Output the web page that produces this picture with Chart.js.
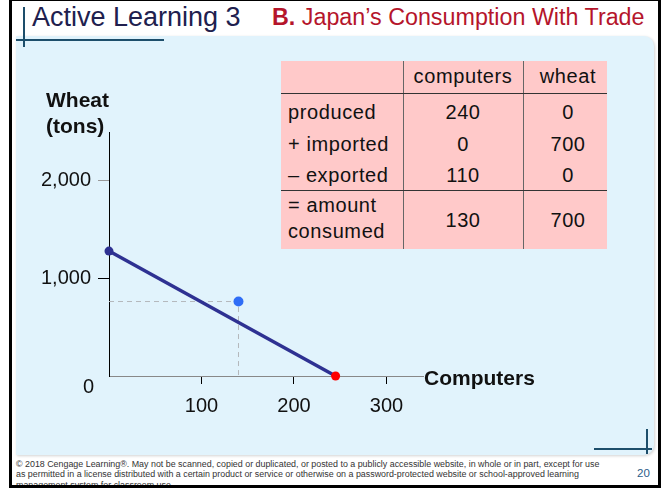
<!DOCTYPE html>
<html>
<head>
<meta charset="utf-8">
<script src="https://cdn.jsdelivr.net/npm/chart.js@4"></script>
<style>
  body { margin: 0; width: 666px; height: 488px; background: #fff; overflow: hidden; position: relative; font-family: Arial, "Liberation Sans", sans-serif; }
  .abs { position: absolute; }
  #frame { left: 9px; top: -2px; width: 652px; height: 490px; border: 3px solid #000; box-sizing: border-box; }
  #panel { left: 16px; top: 36px; width: 638px; height: 419px; background: #e1f3fc; border-radius: 0 10px 10px 0; box-shadow: 1px 1px 3px rgba(0,0,0,0.18); }
  .deco { background: #1d4e6b; }
  #title { left: 32px; top: 4px; font-size: 27px; line-height: 27px; color: #20204e; white-space: nowrap; }
  #subtitle { left: 272px; top: 6.3px; font-size: 23.3px; line-height: 23px; color: #b5152b; white-space: nowrap; }
  #table { left: 281px; top: 61px; width: 326px; height: 188px; background: #ffc9c9; }
  .cell { position: absolute; font-size: 20px; line-height: 24px; color: #111; letter-spacing: 0.6px; white-space: nowrap; }
  .num { transform: translateX(-50%); }
  #footer { left: 16px; top: 458.5px; font-size: 8.9px; line-height: 10.6px; color: #333; white-space: pre; }
  #page { left: 637px; top: 466px; font-size: 11.5px; line-height: 14px; color: #2a5d8a; }
  #chart { position: absolute; left: 0; top: 0; }
</style>
</head>
<body>
<div id="panel" class="abs"></div>
<div class="abs deco" style="left:23px;top:7px;width:2px;height:40px"></div>
<div class="abs deco" style="left:16px;top:39px;width:148px;height:2px"></div>
<div class="abs deco" style="left:646px;top:429px;width:2px;height:25px"></div>
<div class="abs deco" style="left:594px;top:448px;width:58px;height:2px"></div>
<div id="title" class="abs">Active Learning 3</div>
<div id="subtitle" class="abs"><b>B.</b> Japan’s Consumption With Trade</div>
<div id="table" class="abs"></div>
<div id="footer" class="abs"></div>
<div id="page" class="abs">20</div>
<div id="frame" class="abs"></div>
<canvas id="chart" width="666" height="488"></canvas>
<script>
// PPF endpoints and the consumption point
const ppfComputers = [0, 245];
const ppfWheat = [1275, 0];
const consumptionComputers = [140];
const consumptionWheat = [760];

const xTicks = [100, 200, 300];
const xTickLabels = ["100", "200", "300"];
const yTicks = [1000, 2000];
const yTickLabels = ["1,000", "2,000"];

// table
const tableHeaders = ["computers", "wheat"];
const rowLabels = ["produced", "+ imported", "– exported", "= amount\nconsumed"];
const computersCol = ["240", "0", "110", "130"];
const wheatCol = ["0", "700", "0", "700"];

const footerLines = [
  "© 2018 Cengage Learning®. May not be scanned, copied or duplicated, or posted to a publicly accessible website, in whole or in part, except for use",
  "as permitted in a license distributed with a certain product or service or otherwise on a password-protected website or school-approved learning",
  "management system for classroom use."
];

document.getElementById("footer").textContent = footerLines.join("\n");

// build table
const table = document.getElementById("table");
function addLine(l, t, w, h, c) {
  const d = document.createElement("div");
  d.className = "abs";
  d.style.cssText = `left:${l}px;top:${t}px;width:${w}px;height:${h}px;background:${c}`;
  table.appendChild(d);
}
addLine(122, 0, 1, 188, "#666");
addLine(242, 0, 1, 188, "#666");
addLine(0, 32, 326, 1, "#333");
addLine(0, 129, 326, 1, "#333");

function addCell(text, x, top, centered) {
  const d = document.createElement("div");
  d.className = "cell" + (centered ? " num" : "");
  d.style.left = x + "px";
  d.style.top = top + "px";
  d.textContent = text;
  table.appendChild(d);
}
const colX = [182, 287];
tableHeaders.forEach(function (h, i) { addCell(h, colX[i], 3, true); });
const rowTops = [38.7, 70.5, 102.2, 147.2];
rowLabels.forEach(function (lab, i) {
  if (lab.indexOf("\n") >= 0) {
    const parts = lab.split("\n");
    addCell(parts[0], 7, 132.3, false);
    addCell(parts[1], 7, 158.3, false);
  } else {
    addCell(lab, 7, rowTops[i], false);
  }
  addCell(computersCol[i], colX[0], rowTops[i], true);
  addCell(wheatCol[i], colX[1], rowTops[i], true);
});

const FONT = "Arial, 'Liberation Sans', sans-serif";

const axisLabels = {
  id: "axisLabels",
  afterDraw(chart) {
    const ctx = chart.ctx;
    const a = chart.chartArea;
    ctx.save();
    ctx.fillStyle = "#111";
    ctx.textBaseline = "alphabetic";
    ctx.font = "bold 21px " + FONT;
    ctx.textAlign = "left";
    ctx.fillText("Wheat", 46, 107);
    ctx.fillText("(tons)", 46, 133);
    ctx.fillText("Computers", a.right + 1, 385);
    ctx.font = "20px " + FONT;
    ctx.textAlign = "right";
    ctx.fillText("0", 94, 393);
    ctx.restore();
  }
};

const guide = [
  { x: 0, y: consumptionWheat[0] },
  { x: consumptionComputers[0], y: consumptionWheat[0] },
  { x: consumptionComputers[0], y: 0 }
];

new Chart(document.getElementById("chart"), {
  type: "scatter",
  data: {
    datasets: [
      {
        data: ppfComputers.map((x, i) => ({ x: x, y: ppfWheat[i] })),
        showLine: true,
        borderColor: "#2e3192",
        borderWidth: 3.5,
        pointRadius: 4.5,
        pointBackgroundColor: ["#2e3192", "#ff0000"],
        pointBorderColor: ["#2e3192", "#ff0000"],
        pointBorderWidth: 0,
        clip: false
      },
      {
        data: consumptionComputers.map((x, i) => ({ x: x, y: consumptionWheat[i] })),
        pointRadius: 5,
        pointBackgroundColor: "#2f6df6",
        pointBorderWidth: 0,
        clip: false
      },
      {
        data: guide,
        showLine: true,
        borderColor: "#b4b8bc",
        borderWidth: 1,
        borderDash: [5, 4],
        pointRadius: 0,
        clip: false
      }
    ]
  },
  options: {
    responsive: false,
    animation: false,
    layout: { padding: { left: 0, top: 132, right: 243, bottom: 0 } },
    plugins: { legend: { display: false }, tooltip: { enabled: false } },
    scales: {
      x: {
        type: "linear",
        min: 0,
        max: 339.5,
        afterBuildTicks: function (axis) { axis.ticks = xTicks.map(v => ({ value: v })); },
        afterFit: function (scale) { scale.height = 112; },
        grid: { display: true, drawOnChartArea: false, drawTicks: true, tickLength: 8, color: "#000" },
        border: { display: true, color: "#888", width: 1 },
        ticks: {
          autoSkip: false, maxRotation: 0, padding: 10, color: "#111",
          font: { size: 20, family: FONT },
          callback: function (v, i) { return xTickLabels[i]; }
        }
      },
      y: {
        type: "linear",
        min: 0,
        max: 2490,
        afterBuildTicks: function (axis) { axis.ticks = yTicks.map(v => ({ value: v })); },
        afterFit: function (scale) { scale.width = 109; },
        grid: {
          display: true, drawOnChartArea: false, drawTicks: true, tickLength: 11,
          color: function (c) { return c.tick && c.tick.value === 2000 ? "#999" : "#000"; }
        },
        border: { display: true, color: "#000", width: 1 },
        ticks: {
          autoSkip: false, padding: 7, color: "#111",
          font: { size: 20, family: FONT },
          callback: function (v, i) { return yTickLabels[i]; }
        }
      }
    }
  },
  plugins: [axisLabels]
});
</script>
</body>
</html>
